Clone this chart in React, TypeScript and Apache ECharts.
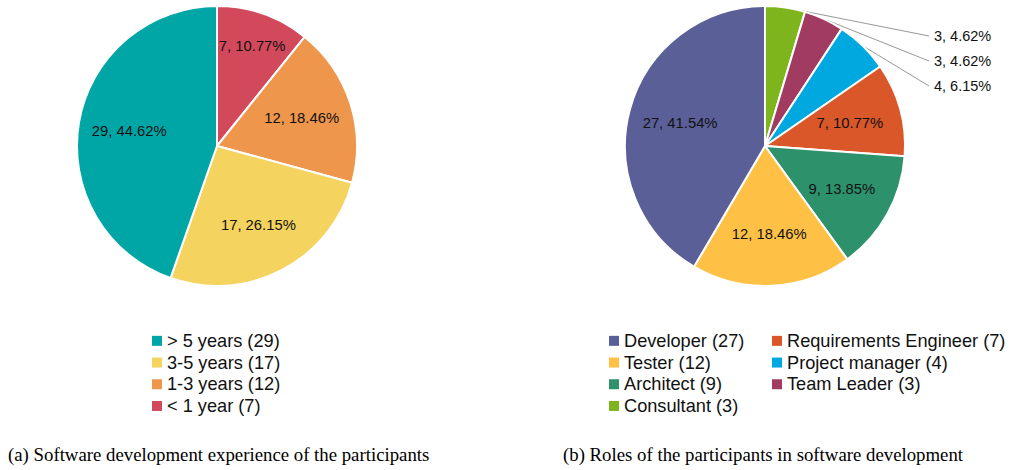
import React, { useEffect, useRef } from "react";
import * as echarts from "echarts";

// Chart (a): experience, in clockwise order from 12 o'clock
const expNames = ["< 1 year", "1-3 years", "3-5 years", "> 5 years"];
const expValues = [7, 12, 17, 29];
const expColors = ["#D1495B", "#EE964B", "#F4D35E", "#00A6A6"];
const expLegendOrder = ["> 5 years", "3-5 years", "1-3 years", "< 1 year"];

// Chart (b): roles, in clockwise order from 12 o'clock
const roleNames = ["Consultant", "Team Leader", "Project manager", "Requirements Engineer", "Architect", "Tester", "Developer"];
const roleValues = [3, 3, 4, 7, 9, 12, 27];
const roleColors = ["#7FB51C", "#A23B62", "#00A8E0", "#DA5729", "#2D926C", "#FFC145", "#5B5F97"];
const roleLegendCol1 = ["Developer", "Tester", "Architect", "Consultant"];
const roleLegendCol2 = ["Requirements Engineer", "Project manager", "Team Leader"];
const roleOutside = ["Consultant", "Team Leader", "Project manager"];

const captionA = "(a) Software development experience of the participants";
const captionB = "(b) Roles of the participants in software development";

const FONT = "Liberation Sans";

function pct(v: number, total: number) {
  return ((v / total) * 100).toFixed(2) + "%";
}

export default function App() {
  const ref = useRef<HTMLDivElement>(null);
  useEffect(() => {
    document.body.style.margin = "0";
    const chart = echarts.init(ref.current!, null, { renderer: "svg" });
    const roleTotal = roleValues.reduce((a, b) => a + b, 0);
    const expData = expNames.map((n, i) => ({ name: n, value: expValues[i], itemStyle: { color: expColors[i] } }));
    const roleData = roleNames.map((n, i) => ({ name: n, value: roleValues[i], itemStyle: { color: roleColors[i] } }));
    const valueOf = (name: string) => {
      const i = expNames.indexOf(name);
      if (i >= 0) return expValues[i];
      return roleValues[roleNames.indexOf(name)];
    };
    const innerLabel = {
      show: true,
      position: "inside",
      color: "#111",
      fontFamily: FONT,
      fontSize: 14.8,
    };
    const overlay = (center: number[], radius: any[], names: string[], values: number[], shown: string[]) => ({
      type: "pie",
      center,
      radius,
      silent: true,
      z: 5,
      itemStyle: { color: "rgba(0,0,0,0)", borderWidth: 0 },
      labelLine: { show: false },
      data: names.map((n, i) => ({
        name: n + " ",
        value: values[i],
        label: shown.includes(n)
          ? { ...innerLabel, formatter: `${values[i]}, ${pct(values[i], values.reduce((a, b) => a + b, 0))}` }
          : { show: false },
      })),
    });
    const legendBase = {
      orient: "vertical",
      icon: "rect",
      itemWidth: 10,
      itemHeight: 10,
      itemGap: 0,
      padding: 0,
      itemStyle: { borderWidth: 0 },
      selectedMode: false,
      textStyle: { fontFamily: FONT, fontSize: 18.2, color: "#111", lineHeight: 21.7 },
      formatter: (name: string) => `${name} (${valueOf(name)})`,
    };
    const captionStyle = { fontFamily: "Liberation Serif", fontSize: 18.8, fontWeight: "normal", color: "#000" };
    const outsideY = [36, 61, 86];
    chart.setOption({
      animation: false,
      title: [
        { text: captionA, left: 8, top: 445, padding: 0, textStyle: captionStyle },
        { text: captionB, left: 563, top: 445, padding: 0, textStyle: captionStyle },
      ],
      legend: [
        { ...legendBase, left: 152, top: 330, data: expLegendOrder },
        { ...legendBase, left: 609, top: 330, data: roleLegendCol1 },
        { ...legendBase, left: 772, top: 330, data: roleLegendCol2 },
      ],
      series: [
        {
          type: "pie",
          center: [217, 146],
          radius: [0, 140],
          startAngle: 90,
          itemStyle: { borderColor: "#fff", borderWidth: 2 },
          label: { show: false },
          labelLine: { show: false },
          data: expData,
        },
        overlay([217, 146], [32, 140], expNames, expValues, ["1-3 years", "3-5 years", "> 5 years"]),
        overlay([217, 146], [66, 140], expNames, expValues, ["< 1 year"]),
        {
          type: "pie",
          center: [765, 146],
          radius: [0, 140],
          startAngle: 90,
          itemStyle: { borderColor: "#fff", borderWidth: 2 },
          label: { show: false },
          labelLine: { show: true, length: 10, length2: 10, lineStyle: { color: "#999", width: 1 } },
          data: roleData.map((d) =>
            roleOutside.includes(d.name)
              ? {
                  ...d,
                  label: {
                    show: true,
                    position: "outside",
                    color: "#111",
                    fontFamily: FONT,
                    fontSize: 14.5,
                    formatter: `${d.value}, ${pct(d.value, roleTotal)}`,
                  },
                  labelLine: { show: true },
                }
              : { ...d, labelLine: { show: false } }
          ),
          labelLayout: (p: any) => {
            const k = roleOutside.indexOf(roleNames[p.dataIndex]);
            if (k < 0) return {};
            const x = 934;
            const y = outsideY[k];
            const start = p.labelLinePoints ? p.labelLinePoints[0] : [x, y];
            return {
              x,
              y,
              align: "left",
              verticalAlign: "middle",
              labelLinePoints: [start, [x - 5, y], [x - 5, y]],
            };
          },
        },
        overlay([765, 146], [30, 140], roleNames, roleValues, ["Requirements Engineer", "Architect", "Tester", "Developer"]),
      ],
    });
    return () => chart.dispose();
  }, []);
  return <div ref={ref} style={{ width: 1019, height: 470 }} />;
}
